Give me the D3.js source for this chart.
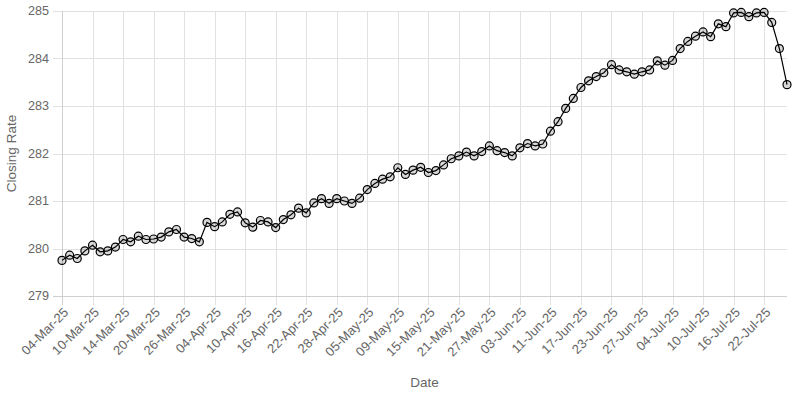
<!DOCTYPE html>
<html>
<head>
<meta charset="utf-8">
<script src="https://cdn.jsdelivr.net/npm/d3@7"></script>
<style>
  html, body { margin: 0; padding: 0; background: #fff; }
  svg { display: block; font-family: "Liberation Sans", Arial, sans-serif; }
</style>
</head>
<body>
<svg id="chart" width="792" height="396"></svg>
<script>
const dates = [
  "04-Mar-25","05-Mar-25","06-Mar-25","07-Mar-25","10-Mar-25","11-Mar-25","12-Mar-25","13-Mar-25",
  "14-Mar-25","17-Mar-25","18-Mar-25","19-Mar-25","20-Mar-25","21-Mar-25","24-Mar-25","25-Mar-25",
  "26-Mar-25","27-Mar-25","28-Mar-25","03-Apr-25","04-Apr-25","07-Apr-25","08-Apr-25","09-Apr-25",
  "10-Apr-25","11-Apr-25","14-Apr-25","15-Apr-25","16-Apr-25","17-Apr-25","18-Apr-25","21-Apr-25",
  "22-Apr-25","23-Apr-25","24-Apr-25","25-Apr-25","28-Apr-25","29-Apr-25","30-Apr-25","02-May-25",
  "05-May-25","06-May-25","07-May-25","08-May-25","09-May-25","12-May-25","13-May-25","14-May-25",
  "15-May-25","16-May-25","19-May-25","20-May-25","21-May-25","22-May-25","23-May-25","26-May-25",
  "27-May-25","29-May-25","30-May-25","02-Jun-25","03-Jun-25","04-Jun-25","05-Jun-25","10-Jun-25",
  "11-Jun-25","12-Jun-25","13-Jun-25","16-Jun-25","17-Jun-25","18-Jun-25","19-Jun-25","20-Jun-25",
  "23-Jun-25","24-Jun-25","25-Jun-25","26-Jun-25","27-Jun-25","30-Jun-25","02-Jul-25","03-Jul-25",
  "04-Jul-25","07-Jul-25","08-Jul-25","09-Jul-25","10-Jul-25","11-Jul-25","14-Jul-25","15-Jul-25",
  "16-Jul-25","17-Jul-25","18-Jul-25","21-Jul-25","22-Jul-25","23-Jul-25","24-Jul-25","25-Jul-25"
];
const closingRate = [
  279.75,279.86,279.79,279.95,280.07,279.93,279.95,280.03,
  280.19,280.14,280.26,280.19,280.20,280.24,280.35,280.40,
  280.24,280.21,280.14,280.55,280.46,280.56,280.72,280.77,
  280.54,280.45,280.59,280.56,280.44,280.61,280.71,280.85,
  280.75,280.96,281.05,280.95,281.05,281.00,280.95,281.06,
  281.24,281.37,281.46,281.51,281.70,281.56,281.65,281.71,
  281.60,281.64,281.76,281.89,281.95,282.03,281.95,282.04,
  282.16,282.06,282.02,281.95,282.12,282.21,282.16,282.20,
  282.47,282.67,282.95,283.16,283.39,283.53,283.62,283.70,
  283.87,283.76,283.72,283.67,283.72,283.76,283.95,283.86,
  283.96,284.21,284.36,284.47,284.56,284.46,284.73,284.67,
  284.96,284.97,284.88,284.96,284.97,284.76,284.21,283.45
];
const yTicks = [279, 280, 281, 282, 283, 284, 285];
const tickEvery = 4;

const svg = d3.select("#chart");
const mLeft = 62, mRight = 787, mTop = 11, mBottom = 296;

const x = d3.scalePoint().domain(dates).range([mLeft, mRight]).padding(0);
const y = d3.scaleLinear().domain([279, 285]).range([mBottom, mTop]);

const shownDates = dates.filter((d, i) => i % tickEvery === 0);
const gridColor = "#e1e1e1";
const textColor = "#666";

// horizontal grid
svg.append("g").selectAll("line").data(yTicks).join("line")
  .attr("x1", mLeft - 9).attr("x2", mRight)
  .attr("y1", d => Math.round(y(d)) + 0.5).attr("y2", d => Math.round(y(d)) + 0.5)
  .attr("stroke", gridColor).attr("stroke-width", 1);

// vertical grid
svg.append("g").selectAll("line").data(shownDates).join("line")
  .attr("x1", d => Math.round(x(d)) + 0.5).attr("x2", d => Math.round(x(d)) + 0.5)
  .attr("y1", mTop).attr("y2", mBottom + 9)
  .attr("stroke", gridColor).attr("stroke-width", 1);

// axis lines
svg.append("line").attr("x1", mLeft + 0.5).attr("x2", mLeft + 0.5)
  .attr("y1", mTop).attr("y2", mBottom + 9).attr("stroke", "#cfcfcf");
svg.append("line").attr("x1", mLeft - 9).attr("x2", mRight)
  .attr("y1", mBottom + 0.5).attr("y2", mBottom + 0.5).attr("stroke", "#cfcfcf");

// y labels
svg.append("g").selectAll("text").data(yTicks).join("text")
  .attr("x", mLeft - 13).attr("y", d => y(d)).attr("dy", "0.35em")
  .attr("text-anchor", "end").attr("fill", textColor).attr("font-size", 12.6)
  .text(d => d);

// x labels
svg.append("g").selectAll("text").data(shownDates).join("text")
  .attr("transform", d => `translate(${x(d) + 4},${mBottom + 14}) rotate(-45)`)
  .attr("text-anchor", "end").attr("dy", "0.35em")
  .attr("fill", textColor).attr("font-size", 13)
  .text(d => d);

// axis titles
svg.append("text").attr("transform", `translate(16,${(mTop + mBottom) / 2}) rotate(-90)`)
  .attr("text-anchor", "middle").attr("fill", textColor).attr("font-size", 13.5)
  .text("Closing Rate");
svg.append("text").attr("x", (mLeft + mRight) / 2).attr("y", 387)
  .attr("text-anchor", "middle").attr("fill", textColor).attr("font-size", 13.5)
  .text("Date");

// line
const line = d3.line().x((d, i) => x(dates[i])).y(d => y(d));
svg.append("path").datum(closingRate).attr("d", line)
  .attr("fill", "none").attr("stroke", "#000").attr("stroke-width", 1.2);

// points
svg.append("g").selectAll("circle").data(closingRate).join("circle")
  .attr("cx", (d, i) => x(dates[i])).attr("cy", d => y(d)).attr("r", 4)
  .attr("fill", "rgba(0,0,0,0.15)").attr("stroke", "#000").attr("stroke-width", 1.2);
</script>
</body>
</html>
